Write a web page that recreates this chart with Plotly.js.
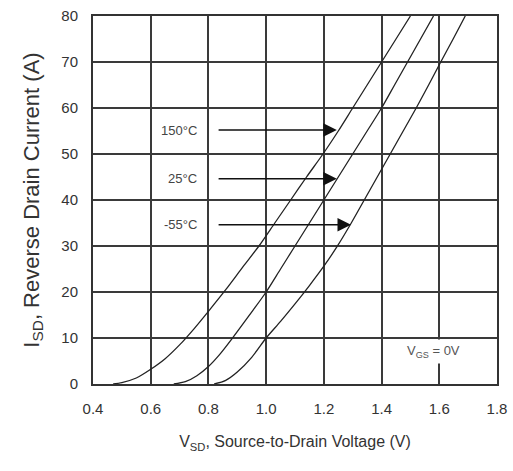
<!DOCTYPE html>
<html>
<head>
<meta charset="utf-8">
<script src="https://cdn.plot.ly/plotly-3.0.1.min.js"></script>
<style>html,body{margin:0;padding:0;background:#fff;}#chart{width:513px;height:471px;}</style>
</head>
<body>
<div id="chart"></div>
<script>
// Curves: V_SD (V) vs I_SD (A)
const vsd150 = [0.47,0.5,0.55,0.6,0.65,0.7,0.75,0.8,0.86,0.92,0.975,1.03,1.085,1.14,1.197,1.25,1.30,1.35,1.40,1.45,1.50];
const isd150 = [0,0.3,1.3,3.2,5.5,8.5,12,15.8,20.5,25.5,30,35,40,45,50,55,60,65,70,75,80];
const vsd25 = [0.68,0.72,0.76,0.8,0.84,0.88,0.94,1.0,1.05,1.1,1.15,1.2,1.25,1.3,1.35,1.4,1.445,1.49,1.535,1.58];
const isd25 = [0,0.5,1.8,3.8,6.5,9.7,14.8,20,25,30,35,40,45,50,55,60,65,70,75,80];
const vsdm55 = [0.82,0.86,0.9,0.95,1.0,1.05,1.1,1.15,1.2,1.245,1.295,1.34,1.385,1.43,1.475,1.52,1.563,1.605,1.648,1.69];
const isdm55 = [0,0.8,2.6,5.8,10,13.6,17.4,21.4,25.6,29.8,35,40,45,50,55,60,65,70,75,80];

// Curve labels with arrows
const labelText = ['150°C', '25°C', '-55°C'];
const labelY = [55.2, 44.6, 34.6];
const arrowTipX = [1.245, 1.245, 1.294];
const arrowTailX = [0.83, 0.83, 0.83];
const labelX = [0.785, 0.785, 0.785];

const xTicks = [0.4,0.6,0.8,1.0,1.2,1.4,1.6,1.8];
const xTickText = ['0.4','0.6','0.8','1.0','1.2','1.4','1.6','1.8'];
const yTicks = [0,10,20,30,40,50,60,70,80];

const lineStyle = {color:'#222', width:1.3, shape:'spline', smoothing:0.8};
const traces = [
  {x:vsd150, y:isd150, mode:'lines', line:lineStyle, hoverinfo:'skip'},
  {x:vsd25, y:isd25, mode:'lines', line:lineStyle, hoverinfo:'skip'},
  {x:vsdm55, y:isdm55, mode:'lines', line:lineStyle, hoverinfo:'skip'}
];

const font = 'Liberation Sans, Arial, sans-serif';
const annotations = [];
for (let i = 0; i < labelText.length; i++) {
  annotations.push({x:labelX[i], y:labelY[i], xref:'x', yref:'y', text:labelText[i],
    showarrow:false, xanchor:'right', yanchor:'middle', bgcolor:'#fff', borderpad:6,
    font:{family:font, size:13, color:'#444'}});
  annotations.push({x:arrowTipX[i], y:labelY[i], ax:arrowTailX[i], ay:labelY[i],
    xref:'x', yref:'y', axref:'x', ayref:'y', text:'', showarrow:true,
    arrowhead:2, arrowsize:1.8, arrowwidth:1.5, arrowcolor:'#111', standoff:0, startstandoff:0});
}
annotations.push({x:1.58, y:7, xref:'x', yref:'y', text:'V<sub>GS</sub> = 0V', showarrow:false,
  xanchor:'center', yanchor:'middle', bgcolor:'#fff', borderpad:3,
  font:{family:font, size:13, color:'#555'}});

const layout = {
  width:513, height:471,
  margin:{l:93, r:16, t:16, b:87},
  paper_bgcolor:'#fff', plot_bgcolor:'#fff',
  showlegend:false,
  font:{family:font, color:'#333'},
  xaxis:{range:[0.4,1.8], tickvals:xTicks, ticktext:xTickText,
    showgrid:true, gridcolor:'#3a3a3a', gridwidth:2,
    showline:true, linecolor:'#333', linewidth:2, mirror:true,
    zeroline:false, ticks:'outside', ticklen:10, tickcolor:'rgba(0,0,0,0)',
    tickfont:{family:font, size:15, color:'#333'},
    title:{text:'V<sub>SD</sub>, Source-to-Drain Voltage (V)', font:{family:font, size:16, color:'#333'}, standoff:20}},
  yaxis:{range:[0,80], tickvals:yTicks,
    showgrid:true, gridcolor:'#3a3a3a', gridwidth:2,
    showline:true, linecolor:'#333', linewidth:2, mirror:true,
    zeroline:false, ticks:'outside', ticklen:10, tickcolor:'rgba(0,0,0,0)',
    tickfont:{family:font, size:15, color:'#333'},
    title:{text:'I<sub>SD</sub>, Reverse Drain Current (A)', font:{family:font, size:22, color:'#333'}, standoff:16}},
  annotations:annotations
};

Plotly.newPlot('chart', traces, layout, {displayModeBar:false, staticPlot:true});
</script>
</body>
</html>
